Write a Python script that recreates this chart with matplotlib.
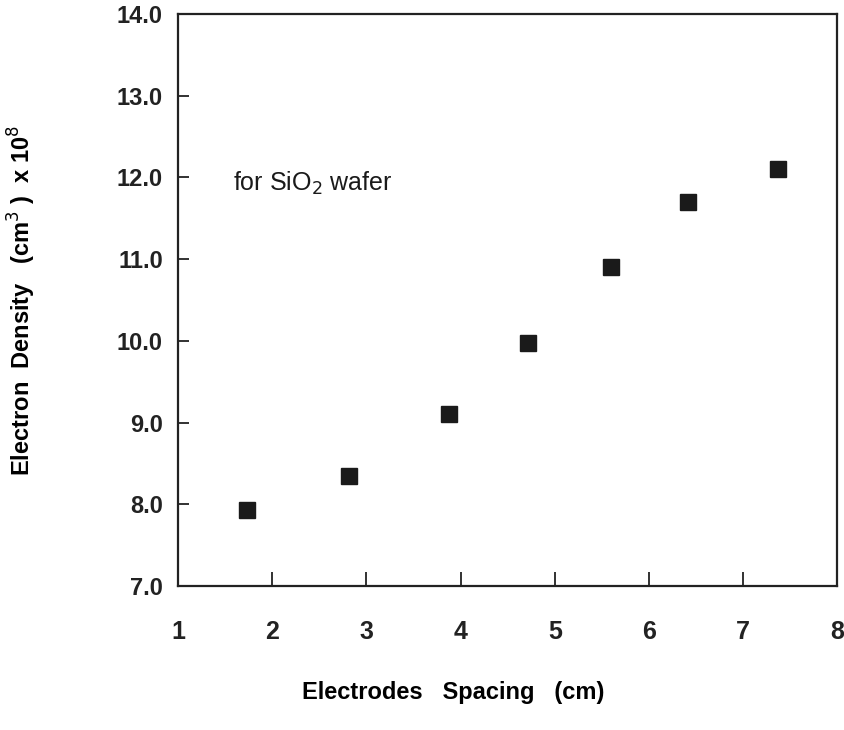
import matplotlib
matplotlib.use('Agg')
import matplotlib.pyplot as plt

# electrode spacing (cm) vs electron density (x 1e8 cm^-3)
spacing = [1.73, 2.82, 3.88, 4.72, 5.6, 6.42, 7.37]
density = [7.93, 8.35, 9.1, 9.97, 10.9, 11.7, 12.1]
xticks = [1, 2, 3, 4, 5, 6, 7, 8]
yticks = [7.0, 8.0, 9.0, 10.0, 11.0, 12.0, 13.0, 14.0]

plt.rcParams['font.family'] = ['Liberation Sans', 'DejaVu Sans']

fig = plt.figure(figsize=(8.44, 7.30), dpi=100)
ax = fig.add_axes([0.211, 0.197, 0.781, 0.784])

ax.plot(spacing, density, linestyle='none', marker='s', markersize=12,
        color='#1a1a1a')

ax.set_xlim(1, 8)
ax.set_ylim(7, 14)
ax.set_xticks(xticks)
ax.set_yticks(yticks)
ax.set_xticklabels([str(t) for t in xticks], fontsize=18, fontweight='bold')
ax.set_yticklabels([f'{t:.1f}' for t in yticks], fontsize=17, fontweight='bold')
ax.tick_params(direction='in', width=1.3, colors='#222222')
ax.tick_params(axis='x', length=10, pad=24)
ax.tick_params(axis='y', length=8, pad=11)
for s in ax.spines.values():
    s.set_linewidth(1.6)
    s.set_color('#222222')

ax.set_xlabel('Electrodes   Spacing   (cm)', fontsize=17, fontweight='bold')
ax.xaxis.set_label_coords(0.417, -0.165)
ax.set_ylabel(r'Electron  Density   (cm$^{3}$ )  x 10$^{8}$', fontsize=17,
              fontweight='bold')
ax.yaxis.set_label_coords(-0.212, 0.5)

ax.text(0.083, 0.703, r'for SiO$_2$ wafer', transform=ax.transAxes,
        fontsize=18, va='center', ha='left', color='#1a1a1a')

fig.savefig('out.png', dpi=100)
